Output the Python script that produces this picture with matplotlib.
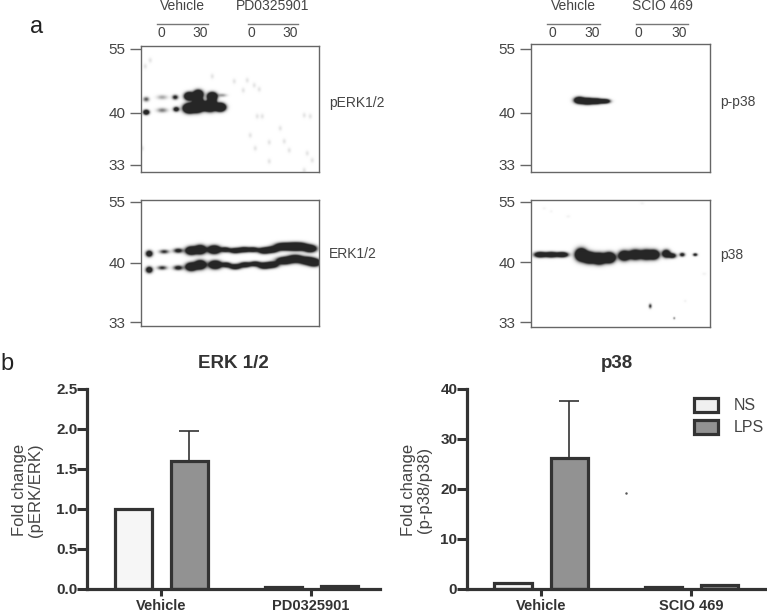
import matplotlib
matplotlib.use('Agg')
import matplotlib.pyplot as plt
from matplotlib.patches import Patch
import numpy as np

plt.rcParams['font.family'] = ['Liberation Sans', 'DejaVu Sans']

W, H = 767, 612

# blot bands: x, y along the membrane, amplitude, sx, sy
perk_x = [5, 5, 21, 21, 34, 35, 48, 57, 71, 48, 56, 69, 79, 57, 81, 71, 63]
perk_y = [53, 66, 51, 64, 51, 63, 50, 48, 50, 62, 61, 60, 61, 55, 49, 55, 60]
perk_a = [.8, 2.2, .4, .6, 1.2, 1.6, 3.5, 3.5, 3.5, 4.5, 4.5, 4.5, 4.5, 3.5, .45, 3.5, 3]
perk_sx = [2, 2, 3.5, 3.5, 2, 2, 3, 3, 3, 3.6, 3.6, 3.6, 3.2, 2.8, 3, 2.2, 3]
perk_sy = [1.6, 1.6, 1.6, 1.6, 1.6, 1.6, 2.4, 2.6, 2.4, 2.8, 3, 3, 2.4, 2.6, 1.2, 2.6, 2.4]
perk_spot_x = [71, 93, 106, 113, 118, 102, 116, 121, 109, 114, 128, 139, 143, 148, 163, 169, 166, 171, 163, 128, 4, 9, 1]
perk_spot_y = [30, 35, 34, 39, 43, 44, 70, 70, 89, 102, 96, 82, 95, 104, 69, 70, 107, 114, 124, 115, 20, 14, 102]

erk_up_x = [8, 23, 37, 50, 59, 73, 84, 94, 103, 112, 123, 131, 141, 151, 159, 169]
erk_up_y = [54, 52, 51, 51, 50, 50, 50, 51, 50, 50, 51, 50, 47, 47, 47, 49]
erk_lo_x = [8, 21, 37, 50, 59, 74, 85, 94, 104, 114, 123, 131, 143, 154, 166, 173]
erk_lo_y = [70, 68, 68, 67, 65, 65, 65, 67, 65, 64, 66, 65, 61, 59, 61, 63]
erk_a = [2, 1, 1.3, 3, 3.2, 3.2, 1.8, 2, 2, 1.8, 2.4, 2.4, 2.8, 2.8, 2.8, 2.8]
erk_sx = [2.2, 3.2, 3.2, 3.6, 3.6, 4, 3.2, 4, 4, 3.5, 4, 4, 5, 5, 5, 4]
erk_sy = [2, 1.4, 1.6, 2.5, 2.7, 2.5, 1.6, 1.7, 1.7, 1.6, 1.9, 1.9, 2.2, 2.3, 2.3, 2.2]

pp38_x = [48, 56, 65, 74]
pp38_y = [56, 57, 57, 57]
pp38_a = [3, 3.5, 3, 2.2]
pp38_sx = [3.2, 4, 4, 3.2]
pp38_sy = [2, 1.9, 1.7, 1.4]

p38_x = [9, 20, 31, 50, 58, 68, 78, 93, 104, 115, 123, 135, 141, 151, 164]
p38_y = [55, 55, 55, 55, 58, 59, 58, 56, 55, 55, 55, 54, 56, 55, 55]
p38_a = [2.5, 2.5, 2.5, 4, 4, 4, 4, 3, 3, 3, 3, 2.5, 1.8, 1.4, 1.4]
p38_sx = [3.8, 4.2, 3.8, 3.6, 4, 4, 3.6, 3.6, 4, 4, 3.2, 2.6, 2.6, 1.8, 1.5]
p38_sy = [1.7, 1.7, 1.6, 3.6, 3.2, 3.2, 3, 3, 3, 3, 2.8, 2.4, 1.6, 1.3, 1]
p38_spot_x = [119, 143, 154, 13, 20, 37, 111, 173]
p38_spot_y = [106, 118, 101, 9, 12, 17, 4, 74]

tick_kda = ['55', '40', '33']

# bar data
erk_groups = ['Vehicle', 'PD0325901']
erk_ns = [1.0, 0.02]
erk_lps = [1.6, 0.04]
erk_err = [0.38, 0.0]
p38_groups = ['Vehicle', 'SCIO 469']
p38_ns = [1.2, 0.4]
p38_lps = [26.3, 0.8]
p38_err = [11.4, 0.0]


def make_ax(x0, y0, x1, y1):
    return fig.add_axes([x0/W, 1-y1/H, (x1-x0)/W, (y1-y0)/H])


def blot(ax, w, h, xs, ys, amps, sxs, sys):
    gx, gy = np.meshgrid(np.arange(0, w, .5), np.arange(0, h, .5))
    z = np.zeros_like(gx)
    for cx, cy, a, sx, sy in zip(xs, ys, amps, sxs, sys):
        z += a*np.exp(-((gx-cx)**2/(2*sx**2)+(gy-cy)**2/(2*sy**2)))
    ax.imshow(1-.85*np.clip(z, 0, 1), cmap='gray', vmin=0, vmax=1,
              extent=[0, w, h, 0], aspect='auto', interpolation='bilinear')


def style_blot(ax, ticks, label, ly):
    ax.set_xticks([])
    ax.set_yticks(ticks)
    ax.set_yticklabels(tick_kda, fontsize=11, color='#444444')
    ax.tick_params(axis='y', length=8, width=1, color='#666666', pad=3)
    for s in ax.spines.values():
        s.set_color('#666666')
        s.set_linewidth(1)
    ax.text(1.055, ly, label, transform=ax.transAxes, fontsize=10, color='#444444',
            va='center', ha='left')


fig = plt.figure(figsize=(W/100, H/100), dpi=100)

# western blots
ax = make_ax(141, 46, 319, 172)
blot(ax, 178, 126, perk_x+perk_spot_x, perk_y+perk_spot_y,
     perk_a+[.12]*len(perk_spot_x), perk_sx+[1.3]*len(perk_spot_x), perk_sy+[1.8]*len(perk_spot_x))
style_blot(ax, [3, 67, 119], 'pERK1/2', .55)

ax = make_ax(141, 200, 319, 326)
blot(ax, 178, 126, erk_up_x+erk_lo_x, erk_up_y+erk_lo_y, erk_a+erk_a,
     erk_sx+erk_sx, erk_sy+erk_sy)
style_blot(ax, [2, 63, 122], 'ERK1/2', .57)

ax = make_ax(531, 44, 710, 172)
blot(ax, 179, 128, pp38_x, pp38_y, pp38_a, pp38_sx, pp38_sy)
style_blot(ax, [5, 69, 121], 'p-p38', .55)

ax = make_ax(531, 200, 710, 327)
blot(ax, 179, 127, p38_x+p38_spot_x, p38_y+p38_spot_y,
     p38_a+[1.0, .6, .06, .05, .05, .06, .06, .06],
     p38_sx+[1.0, .7, 1, 1.2, 1, 1.5, 1.5, 1.5],
     p38_sy+[1.5, .8, 1, 1, 1, 1, 1, 1])
style_blot(ax, [2, 62, 122], 'p38', .57)

# treatment headers over the blots
bg = fig.add_axes([0, 0, 1, 1], zorder=-1)
bg.set_xlim(0, W)
bg.set_ylim(H, 0)
bg.axis('off')
for x0, x1, name, n0, n30 in [(157, 208, 'Vehicle', 161, 200), (248, 298, 'PD0325901', 251, 290),
                              (547, 600, 'Vehicle', 552, 592), (636, 688, 'SCIO 469', 638, 679)]:
    bg.plot([x0, x1], [23.5, 23.5], color='#777777', lw=1)
    bg.text((x0+x1)/2, 6, name, fontsize=10, color='#444444', ha='center', va='center')
    bg.text(n0, 33, '0', fontsize=10, color='#444444', ha='center', va='center')
    bg.text(n30, 33, '30', fontsize=10, color='#444444', ha='center', va='center')
bg.text(30, 27, 'a', fontsize=17, color='#222222', ha='left', va='center')
bg.text(0, 364, 'b', fontsize=17, color='#222222', ha='left', va='center')


def ax_w(ax):
    return ax.get_position().width*W


def bars(ax, groups, ns, lps, err, ymax, yticks, yfmt, ylabel, title, lx):
    pos = np.array([74, 224])
    ax.bar(pos-28, ns, 37, color='#f6f6f6', edgecolor='#333333', linewidth=2.3, label='NS', zorder=3)
    ax.bar(pos+28, lps, 37, color='#929292', edgecolor='#333333', linewidth=2.3, label='LPS', zorder=3)
    e = [v if v > 0 else np.nan for v in err]
    ax.errorbar(pos+28, lps, yerr=[[0]*len(e), e], fmt='none', ecolor='#333333', elinewidth=1.2,
                capsize=7.5, capthick=1.2, zorder=2)
    ax.set_xlim(0, ax_w(ax))
    ax.set_ylim(0, ymax)
    ax.set_xticks(pos)
    ax.set_xticklabels(groups, fontsize=10.5, fontweight='bold', color='#333333')
    ax.set_yticks(yticks)
    ax.set_yticklabels([yfmt % t for t in yticks], fontsize=11, fontweight='bold', color='#333333')
    ax.tick_params(axis='x', length=5, width=2.2, color='#333333', pad=2)
    ax.tick_params(axis='y', length=7, width=2.2, color='#333333', pad=0)
    for s in ['top', 'right']:
        ax.spines[s].set_visible(False)
    for s in ['left', 'bottom']:
        ax.spines[s].set_linewidth(2.3)
        ax.spines[s].set_color('#333333')
        ax.spines[s].set_zorder(5)
    ax.set_ylabel(ylabel, fontsize=12, color='#444444', linespacing=1.05)
    ax.yaxis.set_label_coords(lx, .495)
    ax.set_title(title, fontsize=13.5, fontweight='bold', color='#333333', pad=15)
    ax.patch.set_alpha(0)


ax1 = make_ax(87, 389, 380, 589)
bars(ax1, erk_groups, erk_ns, erk_lps, erk_err, 2.5, [0, .5, 1, 1.5, 2, 2.5], '%.1f',
     'Fold change\n(pERK/ERK)', 'ERK 1/2', -.15)

ax2 = make_ax(467, 389, 767, 589)
bars(ax2, p38_groups, p38_ns, p38_lps, p38_err, 40, [0, 10, 20, 30, 40], '%d',
     'Fold change\n(p-p38/p38)', 'p38', -.117)
ax2.plot([159], [19.2], '.', color='#555555', ms=1.5)

handles = [Patch(facecolor='#f0f0f0', edgecolor='#333333', linewidth=2.3, label='NS'),
           Patch(facecolor='#929292', edgecolor='#333333', linewidth=2.3, label='LPS')]
ax2.legend(handles=handles, frameon=False, fontsize=11.5, loc='upper left',
           bbox_to_anchor=(.758, .955), handlelength=1.45, handleheight=.95, handletextpad=1.0,
           labelspacing=.42, labelcolor='#444444', borderpad=0, borderaxespad=0)

fig.savefig('out.png', dpi=100)
